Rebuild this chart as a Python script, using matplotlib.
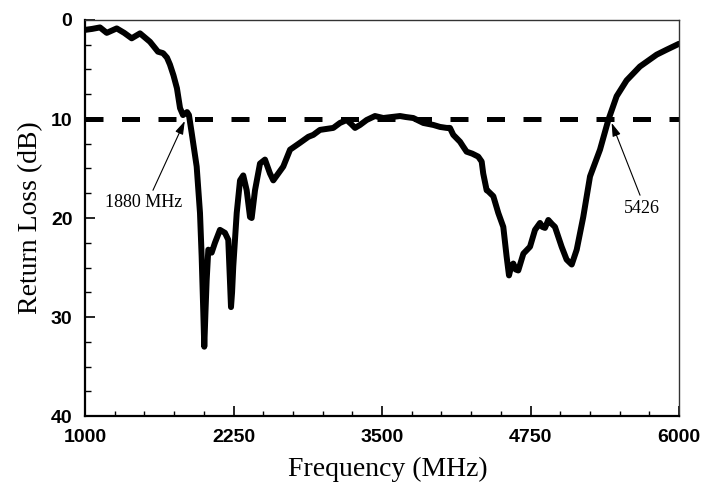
import matplotlib
matplotlib.use("Agg")
import matplotlib.pyplot as plt
from matplotlib.ticker import MultipleLocator

freq = [1000, 1060, 1126, 1183, 1267, 1330, 1393, 1463, 1547, 1614, 1657, 1690,
        1715, 1745, 1774, 1800, 1825, 1859, 1875, 1898, 1940, 1968, 1982, 1996,
        2004, 2014, 2024, 2038, 2066, 2094, 2136, 2178, 2206, 2220, 2229, 2238,
        2248, 2277, 2305, 2332, 2361, 2389, 2403, 2431, 2473, 2515, 2557, 2585,
        2627, 2669, 2726, 2810, 2880, 2922, 2978, 3090, 3146, 3203, 3240, 3273,
        3315, 3371, 3441, 3511, 3580, 3652, 3700, 3763, 3848, 3932, 3988, 4044,
        4072, 4100, 4157, 4184, 4212, 4260, 4310, 4339, 4352, 4381, 4394, 4437,
        4479, 4521, 4549, 4569, 4585, 4605, 4625, 4647, 4690, 4746, 4788, 4830,
        4850, 4872, 4900, 4930, 4956, 5012, 5054, 5097, 5139, 5194, 5251, 5335,
        5405, 5475, 5559, 5671, 5812, 5896, 6000]
return_loss = [1.0, 0.9, 0.75, 1.3, 0.85, 1.3, 1.85, 1.35, 2.2, 3.2, 3.35, 3.8,
               4.5, 5.6, 6.9, 8.9, 9.6, 9.3, 9.6, 11.4, 14.8, 19.5, 23.9, 29.6,
               33.0, 29.5, 26.3, 23.2, 23.5, 22.5, 21.2, 21.5, 22.2, 26.3, 29.0, 27.5,
               24.9, 19.5, 16.2, 15.7, 17.2, 19.9, 20.0, 17.2, 14.5, 14.1, 15.5, 16.2,
               15.5, 14.8, 13.1, 12.4, 11.8, 11.6, 11.1, 10.9, 10.4, 10.1, 10.5, 10.9,
               10.6, 10.1, 9.7, 9.9, 9.8, 9.7, 9.8, 9.9, 10.4, 10.6, 10.8, 10.9,
               10.9, 11.6, 12.3, 12.8, 13.3, 13.5, 13.8, 14.3, 15.5, 17.2, 17.3, 17.8,
               19.5, 20.9, 23.9, 25.8, 25.0, 24.6, 25.2, 25.3, 23.6, 22.9, 21.2, 20.5,
               20.9, 21.0, 20.2, 20.6, 20.9, 22.9, 24.2, 24.7, 23.2, 19.9, 15.8, 13.1,
               10.1, 7.7, 6.1, 4.7, 3.5, 3.0, 2.4]

threshold = 10
x_ticks = [1000, 2250, 3500, 4750, 6000]
y_ticks = [0, 10, 20, 30, 40]

fig = plt.figure(figsize=(7.01, 4.90), dpi=100)
ax = fig.add_axes([85/701, 1-416/490, 594/701, 396/490])

ax.plot([1000, 6000], [threshold, threshold], color='black', lw=3.6,
        linestyle=(0, (3.6, 3.7)), solid_capstyle='butt', dash_capstyle='butt')
ax.plot(freq, return_loss, color='black', lw=4.3, solid_joinstyle='round',
        solid_capstyle='round')

ax.set_xlim(1000, 6000)
ax.set_ylim(40, 0)
ax.set_xticks(x_ticks)
ax.set_yticks(y_ticks)
ax.xaxis.set_minor_locator(MultipleLocator(250))
ax.yaxis.set_minor_locator(MultipleLocator(2.5))
ax.tick_params(which='both', direction='in', top=False, right=False)
ax.tick_params(which='major', length=7, width=1.2)
ax.tick_params(axis='x', which='minor', length=3.5, width=1.0)
ax.tick_params(axis='y', which='minor', length=4, width=1.0)
ax.tick_params(axis='x', which='major', pad=9)
ax.tick_params(axis='y', which='major', pad=9)
for lab in ax.get_xticklabels() + ax.get_yticklabels():
    lab.set_fontfamily('Liberation Sans')
    lab.set_fontweight('bold')
    lab.set_fontsize(14)

for s in ['left', 'bottom']:
    ax.spines[s].set_linewidth(1.6)
    ax.spines[s].set_color('black')
for s in ['top', 'right']:
    ax.spines[s].set_linewidth(1.0)
    ax.spines[s].set_color('#333333')

ax.set_xlabel('Frequency (MHz)', family='Liberation Serif', fontsize=20)
ax.set_ylabel('Return Loss (dB)', family='Liberation Serif', fontsize=20)
ax.xaxis.set_label_coords(0.51, -0.103)
ax.yaxis.set_label_coords(-0.071, 0.5)

arrow = dict(arrowstyle='-|>,head_length=0.8,head_width=0.25', color='black',
             lw=0.8, shrinkA=0, shrinkB=0, mutation_scale=10)
ax.annotate('', xy=(1840, 10.2), xytext=(1572, 17.2), arrowprops=arrow)
ax.text(1497, 18.86, '1880 MHz', family='Liberation Serif', fontsize=13,
        ha='center', va='baseline')
ax.annotate('', xy=(5433, 10.4), xytext=(5672, 17.7), arrowprops=arrow)
ax.text(5684, 19.5, '5426', family='Liberation Serif', fontsize=13,
        ha='center', va='baseline')

fig.savefig('out.png', dpi=100)
